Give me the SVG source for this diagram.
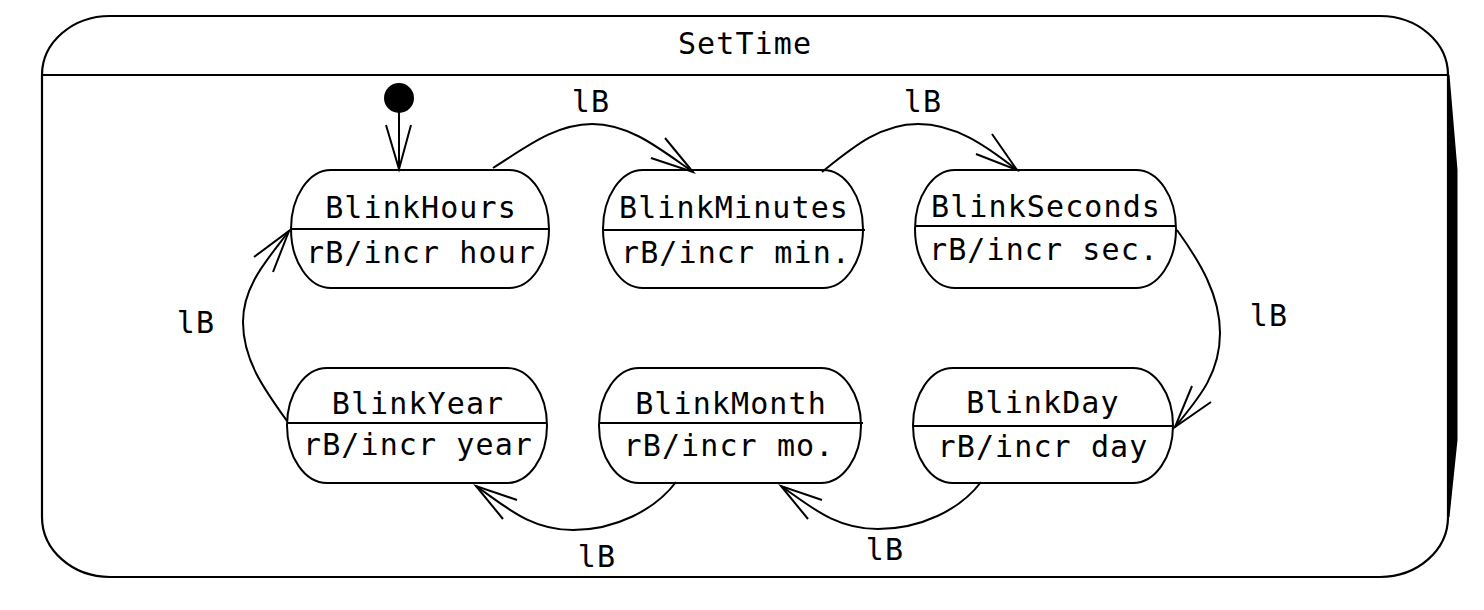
<svg xmlns="http://www.w3.org/2000/svg" width="1484" height="610" viewBox="0 0 1484 610">
<style>
.frame{fill:none;stroke:#000;stroke-width:2.2}
.node rect{fill:#fff;stroke:#000;stroke-width:2}
.node line{stroke:#000;stroke-width:2}
.t{font-family:"DejaVu Sans Mono","Liberation Mono",monospace;font-size:30px;fill:#000;text-anchor:middle;letter-spacing:1.1px}
.edge path,.edge polyline,.edge line{fill:none;stroke:#000;stroke-width:2}
</style>
<rect width="1484" height="610" fill="#fff"/>
<g id="SetTime">
<polygon points="1447,75 1449.5,75 1457.5,170 1457.5,440 1449.5,517 1447,517" fill="#000"/>
<path class="frame" d="M110,16 H1380 A68,59 0 0 1 1448,75 V517 A68,60 0 0 1 1380,577 H110 A68,60 0 0 1 42,517 V75 A68,59 0 0 1 110,16 Z"/>
<line x1="42" y1="75" x2="1448" y2="75" stroke="#000" stroke-width="2.2"/>
<text class="t" x="745" y="54">SetTime</text>
</g>
<g id="initial">
<circle cx="399" cy="98" r="15" fill="#000"/>
</g>
<g id="BlinkHours" class="node">
<rect x="291" y="170" width="258" height="118" rx="40" ry="59"/>
<line x1="291" y1="229" x2="549" y2="229"/>
<text class="t" x="421" y="218">BlinkHours</text>
<text class="t" x="421" y="263">rB/incr hour</text>
</g>
<g id="BlinkMinutes" class="node">
<rect x="603" y="170" width="260" height="118" rx="40" ry="59"/>
<line x1="603" y1="230" x2="865" y2="230"/>
<text class="t" x="734" y="218">BlinkMinutes</text>
<text class="t" x="736" y="263">rB/incr min.</text>
</g>
<g id="BlinkSeconds" class="node">
<rect x="915" y="170" width="261" height="118" rx="40" ry="59"/>
<line x1="915" y1="226" x2="1176" y2="226"/>
<text class="t" x="1046" y="217">BlinkSeconds</text>
<text class="t" x="1044" y="260">rB/incr sec.</text>
</g>
<g id="BlinkYear" class="node">
<rect x="287" y="368" width="260" height="115" rx="40" ry="57.5"/>
<line x1="287" y1="423" x2="547" y2="423"/>
<text class="t" x="418" y="414">BlinkYear</text>
<text class="t" x="418" y="455">rB/incr year</text>
</g>
<g id="BlinkMonth" class="node">
<rect x="599" y="368" width="262" height="115" rx="40" ry="57.5"/>
<line x1="599" y1="423" x2="863" y2="423"/>
<text class="t" x="731" y="414">BlinkMonth</text>
<text class="t" x="729" y="456">rB/incr mo.</text>
</g>
<g id="BlinkDay" class="node">
<rect x="913" y="368" width="260" height="115" rx="40" ry="57.5"/>
<line x1="913" y1="426" x2="1173" y2="426"/>
<text class="t" x="1043" y="413">BlinkDay</text>
<text class="t" x="1043" y="457">rB/incr day</text>
</g>
<g id="connectors" class="edge">
<line x1="399" y1="112" x2="399" y2="169"/>
<polyline points="386,125 399,169 411,125"/>
<path d="M493,168 C525,148 555,124 592,124 C630,124 660,149 693,172"/>
<polyline points="651,158 693,172 665,138"/>
<path d="M822,172 C852,148 880,124 918,124 C955,124 985,145 1017,170"/>
<polyline points="976,154 1017,170 992,134"/>
<path d="M1177,230 C1200,262 1220,295 1220,333 C1220,375 1197,400 1175,427"/>
<polyline points="1192,386 1175,427 1211,402"/>
<path d="M981,482 C960,510 920,529 878,529 C835,529 810,506 781,486"/>
<polyline points="822,500 781,486 808,519"/>
<path d="M676,482 C655,510 615,530 573,530 C530,530 505,506 476,486"/>
<polyline points="517,500 476,486 503,519"/>
<path d="M287,421 C264,389 243,360 243,322 C243,285 268,259 289,231"/>
<polyline points="254,257 289,231 273,272"/>
<text class="t" x="591" y="112">lB</text>
<text class="t" x="923" y="112">lB</text>
<text class="t" x="196" y="333">lB</text>
<text class="t" x="1269" y="326">lB</text>
<text class="t" x="597" y="567">lB</text>
<text class="t" x="885" y="560">lB</text>
</g>
</svg>
